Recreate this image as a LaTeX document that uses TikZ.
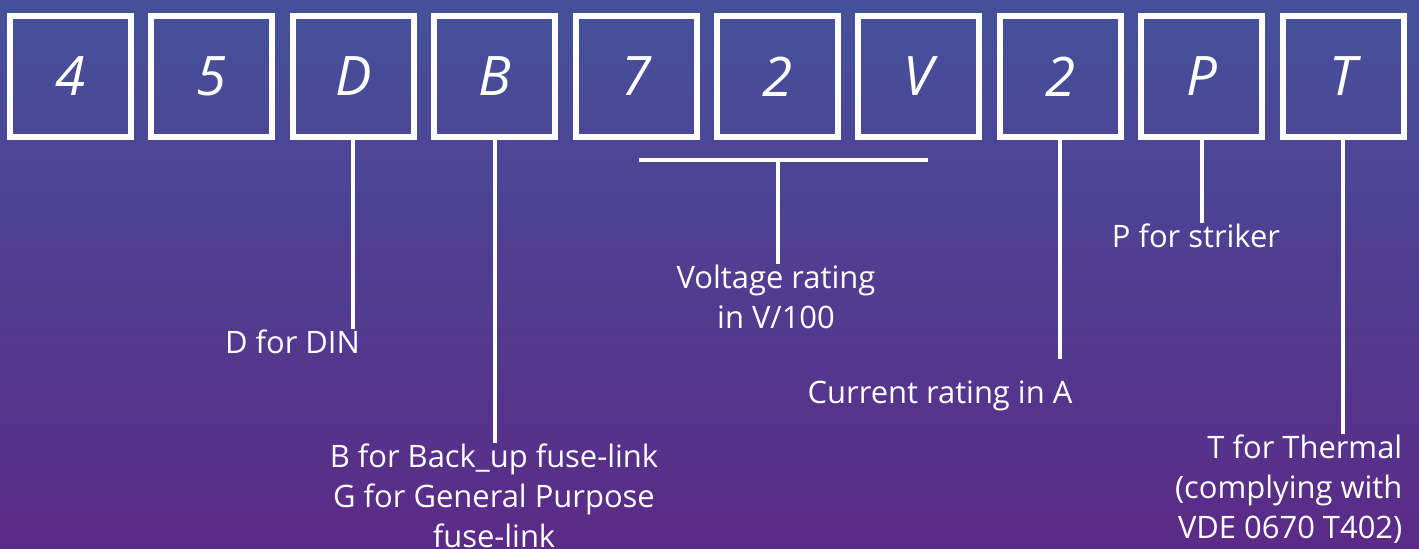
\documentclass[tikz,border=0pt]{standalone}
\usepackage{fontspec}
\setmainfont{Open Sans}
\usepackage{tikz}
\usetikzlibrary{positioning,calc}
\definecolor{bgtop}{HTML}{45519B}
\definecolor{bgbot}{HTML}{5B2A87}

\begin{document}
\begin{tikzpicture}[x=0.1mm,y=0.1mm,
    codebox/.style={draw=white,line width=0.6mm,minimum size=12.1mm,inner sep=0pt,
      text=white,font=\fontsize{15.5}{18}\selectfont\itshape},
    lead/.style={draw=white,line width=0.42mm},
    note/.style={text=white,inner sep=0pt,align=center,
      font=\fontsize{8.8}{11.4}\selectfont}]
      \shade[top color=bgtop,bottom color=bgbot] (0,0) rectangle (1419,549);
      \useasboundingbox (0,0) rectangle (1419,549);
      \foreach \i/\t in {0/4,1/5,2/D,3/B,4/7,5/2,6/V,7/2,8/P,9/T} {
        \node[codebox] (b\i) at (70.5+141.4*\i,472.5) {\t};
      }
      \node[note,anchor=north] (din) at (292.5,220) {D for DIN};
      \node[note,anchor=north] (bup) at (494,106) {B for Back\_up fuse-link\\G for General Purpose\\fuse-link};
      \node[note,anchor=north] (volt) at (776,285) {Voltage rating\\in V/100};
      \node[note,anchor=north] (curr) at (940,169) {Current rating in A};
      \node[note,anchor=north] (strk) at (1196,326) {P for striker};
      \node[note,anchor=north east,align=right] (therm) at (1403,115) {T for Thermal\\(complying with\\VDE 0670 T402)};
      \coordinate (brl) at (639,389);
      \coordinate (brr) at (928,389);
      \coordinate (brm) at (778,389);
      \draw[lead] (brl) -- (brr);
      \draw[lead] (brm) -- (brm |- volt.north);
      \draw[lead] (b2.south) -- (b2.south |- din.north);
      \draw[lead] (b3.south) -- (b3.south |- bup.north);
      \draw[lead] (b7.south) -- ([yshift=6]b7.south |- curr.north);
      \draw[lead] (b8.south) -- (b8.south |- strk.north);
      \draw[lead] (b9.south) -- (b9.south |- therm.north);
    \end{tikzpicture}
\end{document}
